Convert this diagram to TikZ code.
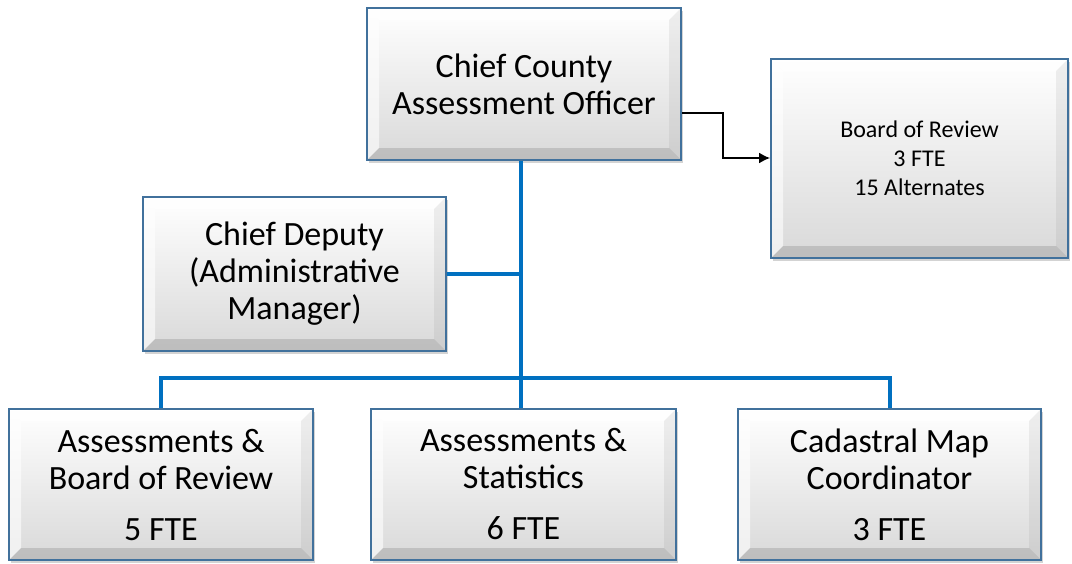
\documentclass[tikz,border=0pt]{standalone}
\usepackage{fontspec}
\setmainfont{Carlito}
\usetikzlibrary{shadows,calc,arrows.meta}
\definecolor{linkblue}{HTML}{0070C0}
\definecolor{boxedge}{HTML}{41719C}
\tikzset{
  bevel/.style={
    path picture={
      \coordinate (nw) at (path picture bounding box.north west);
      \coordinate (ne) at (path picture bounding box.north east);
      \coordinate (sw) at (path picture bounding box.south west);
      \coordinate (se) at (path picture bounding box.south east);
      \fill[white,opacity=0.85] (nw) -- (ne) -- ($(ne)+(-12,-12)$) -- ($(nw)+(12,-12)$) -- cycle;
      \fill[white,opacity=0.6] (nw) -- ($(nw)+(12,-12)$) -- ($(sw)+(12,12)$) -- (sw) -- cycle;
      \fill[gray,opacity=0.12] (ne) -- ($(ne)+(-12,-12)$) -- ($(se)+(-12,12)$) -- (se) -- cycle;
      \fill[gray,opacity=0.3] (sw) -- ($(sw)+(12,12)$) -- ($(se)+(-12,12)$) -- (se) -- cycle;
    }},
  orgbox/.style={draw=boxedge, line width=1.8pt, rectangle, align=center,
    top color=white, bottom color=gray!30, bevel,
    drop shadow={shadow xshift=2pt, shadow yshift=-3pt, opacity=0.35, fill=gray},
    font=\fontsize{34}{37}\selectfont, inner sep=0pt},
  bus/.style={draw=linkblue, line width=4pt},
  feed/.style={draw=black, line width=1.8pt, -{Latex[length=11pt,width=11pt]}},
}
\begin{document}
\begin{tikzpicture}[x=1pt,y=1pt]
\useasboundingbox (0,0) rectangle (1072,-563);
\node[orgbox, minimum width=314, minimum height=152] (chief) at (524,-84) {Chief County\\Assessment Officer};
\node[orgbox, minimum width=297, minimum height=199, font=\fontsize{24}{29}\selectfont] (board) at (919.5,-158.5) {Board of Review\\3 FTE\\15 Alternates};
\node[orgbox, minimum width=303, minimum height=154] (deputy) at (294.5,-274) {Chief Deputy\\(Administrative\\Manager)};
\node[orgbox, minimum width=304, minimum height=151] (ab) at (161,-484.5) {Assessments \&\\Board of Review\\[14pt]5 FTE};
\node[orgbox, minimum width=305, minimum height=151] (as) at (523.5,-484.5) {Assessments \&\\Statistics\\[14pt]6 FTE};
\node[orgbox, minimum width=303, minimum height=151] (cm) at (889.5,-484.5) {Cadastral Map\\Coordinator\\[14pt]3 FTE};
\coordinate (trunk) at (521,-378);
\coordinate (bend) at (723,-113);
\path[bus] (chief.south -| trunk) -- (trunk);
\path[bus] (deputy.east) -- (deputy.east -| trunk);
\path[bus] (ab.north) -- (ab.north |- trunk) -- (cm.north |- trunk) -- (cm.north);
\path[bus] (trunk) -- (trunk |- as.north);
\path[feed] (chief.east |- bend) -- (bend) -- (bend |- 0,-158) -- (board.west |- 0,-158);
\end{tikzpicture}
\end{document}
